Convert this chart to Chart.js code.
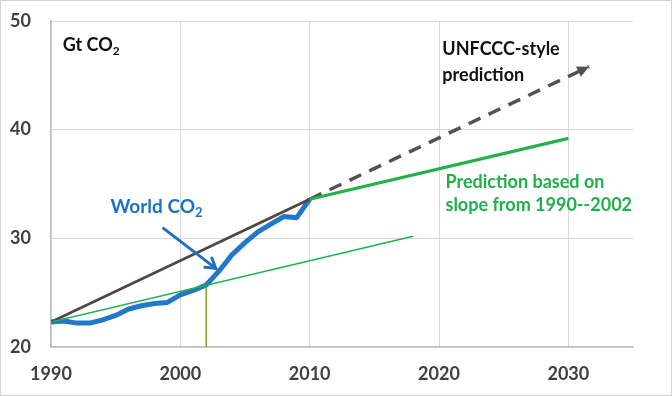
<!DOCTYPE html>
<html>
<head>
<meta charset="utf-8">
<script src="https://cdn.jsdelivr.net/npm/chart.js@4/dist/chart.umd.min.js"></script>
<style>
  body { margin: 0; background: #fff; }
  #wrap { width: 672px; height: 396px; }
</style>
</head>
<body>
<div id="wrap"><canvas id="grafico" width="672" height="396"></canvas></div>
<script>

// data
var years = [1990, 1991, 1992, 1993, 1994, 1995, 1996, 1997, 1998, 1999, 2000,
             2001, 2002, 2003, 2004, 2005, 2006, 2007, 2008, 2009, 2010];
var worldCO2 = [22.3, 22.4, 22.2, 22.2, 22.5, 22.9, 23.5, 23.8, 24.0, 24.1, 24.8,
                25.2, 25.7, 27.0, 28.5, 29.6, 30.6, 31.3, 32.0, 31.9, 33.6];

var unfcccYears = [1990, 2010];
var unfcccValues = [22.3, 33.6];
var unfcccDashYears = [2010, 2031.6];
var unfcccDashValues = [33.6, 45.8];

var slopeYears = [2010, 2030];
var slopeValues = [33.6, 39.2];
var slopeFitYears = [1990, 2018];
var slopeFitValues = [22.3, 30.2];

var markerYears = [2002, 2002];
var markerValues = [20, 25.7];

var xTicks = [1990, 2000, 2010, 2020, 2030];
var yTicks = [20, 30, 40, 50];


function pts (xs, ys) {
  var out = [];
  for (var i = 0; i < xs.length; i++) {
    out.push({x: xs[i], y: ys[i]});
  }
  return out;
}

var FONT = "Lato, 'Open Sans', sans-serif";

// text with a subscript 2 after CO
function textSub (ctx, parts, x, y, size, color) {
  ctx.fillStyle = color;
  ctx.textBaseline = 'middle';
  ctx.textAlign = 'left';
  for (var i = 0; i < parts.length; i++) {
    var p = parts[i];
    if (p.sub) {
      ctx.font = 'bold ' + Math.round(size * 0.68) + 'px ' + FONT;
      ctx.fillText(p.t, x, y + size * 0.3);
    } else {
      ctx.font = 'bold ' + size + 'px ' + FONT;
      ctx.fillText(p.t, x, y);
    }
    x += ctx.measureText(p.t).width;
  }
}

var annotations = {
  id: 'annotations',
  beforeDraw: function (chart) {
    var c = chart.ctx;
    c.save();
    c.fillStyle = '#ffffff';
    c.fillRect(0, 0, chart.width, chart.height);
    c.restore();
  },
  afterDatasetsDraw: function (chart) {
    var c = chart.ctx;
    var xs = chart.scales.x, ys = chart.scales.y;
    function px (v) { return xs.getPixelForValue(v); }
    function py (v) { return ys.getPixelForValue(v); }

    c.save();

    // arrow head on the dashed UNFCCC line
    var n = unfcccDashYears.length - 1;
    var x1 = px(unfcccDashYears[n - 1]), y1 = py(unfcccDashValues[n - 1]);
    var x2 = px(unfcccDashYears[n]), y2 = py(unfcccDashValues[n]);
    var a = Math.atan2(y2 - y1, x2 - x1);
    c.fillStyle = '#57514d';
    c.beginPath();
    c.moveTo(x2, y2);
    c.lineTo(x2 - 13 * Math.cos(a - 0.45), y2 - 13 * Math.sin(a - 0.45));
    c.lineTo(x2 - 13 * Math.cos(a + 0.45), y2 - 13 * Math.sin(a + 0.45));
    c.closePath();
    c.fill();

    // blue arrow pointing at the curve
    var bx1 = px(1998.7), by1 = py(30.92);
    var bx2 = px(2002.74), by2 = py(27.24);
    c.strokeStyle = '#1f70c1';
    c.lineWidth = 3;
    c.lineCap = 'round';
    c.beginPath();
    c.moveTo(bx1, by1);
    c.lineTo(bx2, by2);
    c.stroke();
    var b = Math.atan2(by2 - by1, bx2 - bx1);
    c.beginPath();
    c.moveTo(bx2 - 11 * Math.cos(b - 0.55), by2 - 11 * Math.sin(b - 0.55));
    c.lineTo(bx2, by2);
    c.lineTo(bx2 - 11 * Math.cos(b + 0.55), by2 - 11 * Math.sin(b + 0.55));
    c.stroke();

    // labels
    textSub(c, [{t: 'Gt CO'}, {t: '2', sub: true}], px(1990.9), py(47.75), 18, '#111111');
    textSub(c, [{t: 'UNFCCC-style'}], px(2020.26), py(47.4), 18, '#111111');
    textSub(c, [{t: 'prediction'}], px(2020.26), py(45.0), 18, '#111111');
    textSub(c, [{t: 'Prediction based on'}], px(2020.5), py(35.15), 18, '#20b04b');
    textSub(c, [{t: 'slope from 1990--2002'}], px(2020.5), py(33.04), 18, '#20b04b');
    textSub(c, [{t: 'World CO'}, {t: '2', sub: true}], px(1994.6), py(32.85), 19, '#1f70c1');

    // outer frame
    c.strokeStyle = '#d4d4d4';
    c.lineWidth = 1;
    c.strokeRect(0.5, 0.5, chart.width - 1, chart.height - 1);

    c.restore();
  }
};


var ctx = document.getElementById('grafico');

var ChartGraph = new Chart(ctx, {
  type: 'scatter',
  data: {
    datasets: [
      {
        data: pts(slopeFitYears, slopeFitValues),
        showLine: true, borderColor: '#22b14c', borderWidth: 1.6,
        pointRadius: 0, order: 1
      },
      {
        data: pts(slopeYears, slopeValues),
        showLine: true, borderColor: '#22b14c', borderWidth: 3.2,
        pointRadius: 0, order: 2
      },
      {
        data: pts(unfcccYears, unfcccValues),
        showLine: true, borderColor: '#4d4744', borderWidth: 2.6,
        pointRadius: 0, order: 3
      },
      {
        data: pts(unfcccDashYears, unfcccDashValues),
        showLine: true, borderColor: '#57514d', borderWidth: 3.5,
        borderDash: [13, 9], pointRadius: 0, order: 4
      },
      {
        data: pts(years, worldCO2),
        showLine: true, borderColor: '#2277c9', borderWidth: 5,
        borderJoinStyle: 'round', pointRadius: 0, order: 5
      },
      {
        data: pts(markerYears, markerValues),
        showLine: true, borderColor: '#8a9a2e', borderWidth: 1.5,
        pointRadius: 0, order: 6
      }
    ]
  },
  options: {
    responsive: false,
    animation: false,
    events: [],
    layout: { padding: { top: 21, right: 39, left: 10, bottom: 0 } },
    plugins: {
      legend: { display: false },
      tooltip: { enabled: false }
    },
    scales: {
      x: {
        type: 'linear',
        min: 1990,
        max: 2035,
        afterFit: function (s) { s.height = 49; },
        afterBuildTicks: function (s) {
          s.ticks = xTicks.map(function (v) { return {value: v}; });
        },
        grid: { color: '#d9d9d9', lineWidth: 1, drawTicks: false },
        border: { color: '#bfbfbf', width: 1.5 },
        ticks: {
          padding: 16,
          color: '#404040',
          font: { family: FONT, size: 18, weight: 'bold' },
          callback: function (v) { return String(v); }
        }
      },
      y: {
        min: 20,
        max: 50,
        afterFit: function (s) { s.width = 41; },
        afterBuildTicks: function (s) {
          s.ticks = yTicks.map(function (v) { return {value: v}; });
        },
        grid: { color: '#d9d9d9', lineWidth: 1, drawTicks: false },
        border: { color: '#bfbfbf', width: 1.5 },
        ticks: {
          padding: 0,
          crossAlign: 'far',
          color: '#404040',
          font: { family: FONT, size: 18, weight: 'bold' },
          callback: function (v) { return String(v); }
        }
      }
    }
  },
  plugins: [annotations]
});

</script>
</body>
</html>
